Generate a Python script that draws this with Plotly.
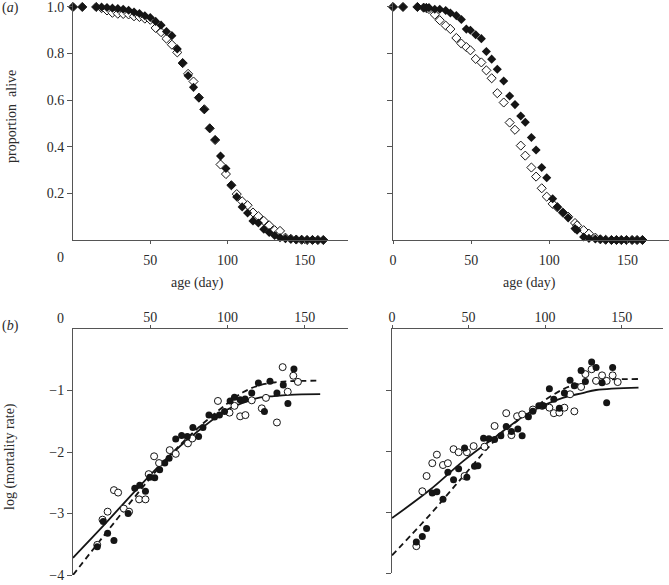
import plotly.graph_objects as go

# ---------------- data ----------------
# (a) survival, left panel
TL_days = [0, 6, 15, 18.5, 22, 25.5, 29, 32.5, 36, 39.5, 43, 46.5, 50, 53.5, 57, 60.5, 64, 67.5,
           71, 74.5, 78, 81.5, 85, 88.5, 92, 95.5, 99, 102.5, 106, 109.5, 113, 116.5, 120, 123.5,
           127, 130.5, 134, 137.5, 141, 144.5, 148, 151.5, 155, 158.5, 162]
TL_filled = [1.0, 1.0, 1.0, 1.0, 0.998, 0.995, 0.993, 0.99, 0.986, 0.978, 0.972, 0.962, 0.955, 0.938,
             0.922, 0.895, 0.877, 0.82, 0.76, 0.705, 0.655, 0.61, 0.56, 0.48, 0.43, 0.36, 0.307, 0.235,
             0.185, 0.142, 0.116, 0.082, 0.073, 0.046, 0.032, 0.019, 0.01, 0.006, 0.004, 0.002, 0.002,
             0.001, 0.001, 0.0, 0.0]
TL_open = [1.0, 1.0, 1.0, 0.995, 0.985, 0.975, 0.971, 0.97, 0.968, 0.96, 0.957, 0.95, 0.945, 0.91,
           0.892, 0.864, 0.838, 0.805, 0.759, 0.713, 0.68, 0.611, 0.561, 0.479, 0.429, 0.324, 0.283,
           0.235, 0.197, 0.166, 0.149, 0.118, 0.102, 0.082, 0.063, 0.042, 0.039, 0.01, 0.005, 0.002,
           0.001, 0.0, 0.0, 0.0, 0.0]

# (a) survival, right panel
TR_days = [0, 6.4, 15.6, 19.6, 21.3, 23, 26.7, 29.9, 33.7, 36.7, 40.5, 43.7, 46.9, 49.5, 52.9, 56.5,
           59.7, 63.1, 66.7, 70.8, 74.6, 78, 81.7, 84.6, 88.5, 91.5, 95.1, 98.3, 102.1, 105.1, 108.7,
           112, 116.4, 117.7, 121.9, 125.3, 129.4, 132.6, 136, 139.7, 142.9, 146, 149.3, 152.9, 156.1,
           159.5]
TR_filled = [1.0, 1.0, 1.0, 0.997, 0.997, 0.997, 0.99, 0.99, 0.985, 0.974, 0.963, 0.946, 0.905, 0.9,
             0.881, 0.864, 0.809, 0.776, 0.733, 0.682, 0.618, 0.581, 0.532, 0.505, 0.44, 0.386, 0.311,
             0.267, 0.177, 0.142, 0.118, 0.095, 0.049, 0.042, 0.013, 0.007, 0.004, 0.003, 0.001, 0, 0,
             0, 0, 0, 0, 0]
TR_open = [1.0, 1.0, 1.0, 0.997, 0.995, 0.991, 0.967, 0.943, 0.92, 0.905, 0.867, 0.843, 0.828, 0.814,
           0.777, 0.762, 0.728, 0.694, 0.63, 0.59, 0.504, 0.473, 0.405, 0.362, 0.311, 0.272, 0.222,
           0.186, 0.155, 0.14, 0.117, 0.1, 0.073, 0.063, 0.042, 0.027, 0.01, 0.003, 0.001, 0, 0, 0, 0,
           0, 0, 0]

# (b) log mortality, left panel
BL_f_days = [15.7, 19.6, 22.4, 26.5, 35.7, 40, 43.2, 46.9, 49.7, 52.9, 56.1, 59.4, 62.2, 66.5, 70.3,
             74, 77.6, 81.3, 84.1, 88, 91.6, 94.8, 98.1, 101.7, 104.5, 108.2, 111.4, 115.7, 120, 123.9,
             127.5, 132, 136.1, 139.1, 143]
BL_f_vals = [-3.54, -3.13, -3.32, -3.44, -3.0, -2.59, -2.54, -2.64, -2.41, -2.42, -2.29, -2.18, -2.10,
             -1.79, -1.73, -1.75, -1.60, -1.75, -1.60, -1.40, -1.43, -1.40, -1.34, -1.17, -1.11, -1.15,
             -1.14, -1.04, -0.88, -1.34, -0.85, -1.04, -0.91, -1.21, -0.65]
BL_o_days = [15.7, 19.1, 22.4, 26.5, 29.2, 32.9, 36.3, 42.8, 46.9, 49, 52.5, 55.7, 62.6, 66.5, 74.4,
             77.2, 93.8, 101.3, 104.5, 108.2, 111.6, 115.7, 122.2, 124.9, 132, 135.7, 139, 142.6, 145.6]
BL_o_vals = [-3.51, -3.10, -2.97, -2.62, -2.66, -2.92, -2.97, -2.77, -2.77, -2.36, -2.07, -2.18, -1.97,
             -2.03, -1.86, -1.78, -1.17, -1.36, -1.25, -1.42, -1.40, -1.16, -1.29, -1.12, -1.52, -0.62,
             -1.02, -0.76, -0.86]
BL_curve_days = [0, 20, 40, 60, 80, 100, 110, 120, 130, 140, 160]
BL_solid = [-3.72, -3.19, -2.64, -2.12, -1.68, -1.31, -1.20, -1.12, -1.09, -1.07, -1.06]
BL_dashed = [-4.0, -3.36, -2.73, -2.13, -1.63, -1.21, -1.03, -0.92, -0.87, -0.85, -0.84]

# (b) log mortality, right panel
BR_f_days = [15.9, 19.8, 22.6, 26.3, 29.3, 33.3, 36.5, 40.2, 43.5, 47.4, 48.9, 53.9, 56.1, 59.8, 63.3,
             67, 71.1, 74.6, 78, 82.2, 85, 89.1, 92, 95.9, 98.9, 102.8, 105.7, 109.3, 112.6, 116.3,
             119.1, 123.5, 126.3, 130.4, 133.3, 137.2, 140.2, 144.1]
BR_f_vals = [-3.49, -3.40, -3.27, -2.69, -2.67, -2.79, -2.35, -2.47, -2.29, -1.95, -2.43, -2.25, -2.24,
             -1.79, -1.80, -1.81, -1.75, -1.60, -1.68, -1.64, -1.75, -1.44, -1.35, -1.26, -1.26, -0.98,
             -1.15, -1.30, -1.05, -0.84, -0.93, -0.68, -0.86, -0.54, -0.63, -0.88, -1.21, -0.63]
BR_o_days = [15.9, 19.8, 22.6, 26.3, 29.3, 33.3, 36.5, 40.2, 43.5, 47.4, 48.9, 53.3, 60.4, 67, 74.6,
             78, 81.7, 85, 92, 98, 102.8, 105.7, 109.3, 112.6, 116.3, 119.1, 123.5, 126.3, 130.4,
             133.3, 137.2, 140.2, 144.1, 147.4]
BR_o_vals = [-3.56, -2.66, -2.41, -2.20, -2.06, -2.23, -2.20, -1.97, -2.02, -2.41, -2.02, -1.92, -1.93,
             -1.59, -1.38, -1.74, -1.43, -1.40, -1.32, -1.26, -1.29, -1.38, -1.37, -1.29, -1.07, -1.35,
             -0.95, -0.74, -0.66, -0.85, -0.76, -0.85, -0.76, -0.87]
BR_curve_days = [0, 24.6, 46.3, 68, 89.8, 111.5, 124.6, 133.3, 161]
BR_solid = [-3.10, -2.64, -2.17, -1.76, -1.37, -1.13, -1.05, -1.0, -0.96]
BR_dashed = [-3.71, -3.05, -2.42, -1.81, -1.35, -0.99, -0.88, -0.84, -0.82]

x_ticks = [50, 100, 150]
x_ticks_right = [0, 50, 100, 150]
surv_ticks = [0.2, 0.4, 0.6, 0.8, 1.0]
surv_ticktext = ["0.2", "0.4", "0.6", "0.8", "1.0"]
mort_ticks = [-1, -2, -3, -4]

# ---------------- figure ----------------
W, H = 669, 585
FONT = "Liberation Serif, Times New Roman, serif"
TXT = "#2b2b2b"
AX = "#555555"
INK = "#151515"


def fx(p):
    return p / W


def fy(p):
    return 1 - p / H


fig = go.Figure()


def diamonds(x, y, xa, ya, filled):
    fig.add_trace(go.Scatter(
        x=x, y=y, xaxis=xa, yaxis=ya, mode="markers", cliponaxis=False, showlegend=False,
        marker=dict(symbol="diamond", size=7,
                    color=INK if filled else "white",
                    line=dict(color=INK, width=1 if not filled else 0))))


def circles(x, y, xa, ya, filled):
    fig.add_trace(go.Scatter(
        x=x, y=y, xaxis=xa, yaxis=ya, mode="markers", cliponaxis=False, showlegend=False,
        marker=dict(symbol="circle", size=7,
                    color=INK if filled else "white",
                    line=dict(color=INK, width=1 if not filled else 0))))


def curve(x, y, xa, ya, dash):
    fig.add_trace(go.Scatter(
        x=x, y=y, xaxis=xa, yaxis=ya, mode="lines", cliponaxis=False, showlegend=False,
        line=dict(color=INK, width=1.8, dash=dash, shape="spline", smoothing=1.0)))


diamonds(TL_days, TL_open, "x", "y", False)
diamonds(TL_days, TL_filled, "x", "y", True)
diamonds(TR_days, TR_open, "x2", "y2", False)
diamonds(TR_days, TR_filled, "x2", "y2", True)

curve(BL_curve_days, BL_solid, "x3", "y3", "solid")
curve(BL_curve_days, BL_dashed, "x3", "y3", "6px,4px")
circles(BL_o_days, BL_o_vals, "x3", "y3", False)
circles(BL_f_days, BL_f_vals, "x3", "y3", True)

curve(BR_curve_days, BR_solid, "x4", "y4", "solid")
curve(BR_curve_days, BR_dashed, "x4", "y4", "6px,4px")
circles(BR_o_days, BR_o_vals, "x4", "y4", False)
circles(BR_f_days, BR_f_vals, "x4", "y4", True)

tickfont = dict(family=FONT, size=14, color=TXT)
common_x = dict(showline=True, linecolor=AX, linewidth=1, showgrid=False, zeroline=False,
                ticks="outside", ticklen=3, tickcolor=AX, tickfont=tickfont, fixedrange=True,
                automargin=False, ticklabeloverflow="allow")
common_y = dict(showline=True, linecolor=AX, linewidth=1, showgrid=False, zeroline=False,
                ticks="outside", ticklen=5, tickcolor=AX, tickfont=tickfont, fixedrange=True,
                automargin=False, ticklabeloverflow="allow")

top_dom = [fy(240), fy(3)]
bot_dom = [fy(575), fy(329)]

fig.update_layout(
    template="none",
    width=W, height=H, margin=dict(l=0, r=0, t=0, b=0, pad=0, autoexpand=False),
    paper_bgcolor="white", plot_bgcolor="white",
    font=dict(family=FONT, size=14, color=TXT),
    xaxis=dict(common_x, domain=[fx(73), fx(348)], range=[0, 178], anchor="y",
               tickvals=x_ticks, ticklabelstandoff=4),
    yaxis=dict(common_y, domain=top_dom, range=[0, 1.017], anchor="x",
               tickvals=surv_ticks, ticktext=surv_ticktext),
    xaxis2=dict(common_x, domain=[fx(393), 1.0], range=[0, 176.5], anchor="y2",
                tickvals=x_ticks_right, ticklabelstandoff=4),
    yaxis2=dict(common_y, domain=top_dom, range=[0, 1.017], anchor="x2",
                tickvals=surv_ticks, showticklabels=False),
    xaxis3=dict(common_x, domain=[fx(73), fx(348)], range=[0, 178], anchor="y3", side="top",
                tickvals=x_ticks, ticklabelstandoff=-3),
    yaxis3=dict(common_y, domain=bot_dom, range=[-4, 0], anchor="x3",
                tickvals=mort_ticks),
    xaxis4=dict(common_x, domain=[fx(392), fx(663)], range=[0, 177], anchor="y4", side="top",
                tickvals=x_ticks_right, ticklabelstandoff=-3),
    yaxis4=dict(common_y, domain=[fy(573), fy(329)], range=[-4, 0], anchor="x4",
                tickvals=mort_ticks, showticklabels=False),
)

ann_font = dict(family=FONT, size=14, color=TXT)


def ann(text, x, y, angle=0, xanchor="center"):
    fig.add_annotation(text=text, x=fx(x), y=fy(y), xref="paper", yref="paper",
                       showarrow=False, textangle=angle, font=ann_font,
                       xanchor=xanchor, yanchor="middle")


ann("0", 60, 257)
ann("0", 60, 318)
ann("age (day)", 197, 283)
ann("age (day)", 529, 283)
ann("proportion  alive", 12, 117, angle=-90)
ann("log (mortality rate)", 10, 457, angle=-90)
ann("(<i>a</i>)", 0, 8, xanchor="left")
ann("(<i>b</i>)", 0, 326, xanchor="left")

fig.write_html("out.html",
               config={"displayModeBar": False, "staticPlot": True},
               post_script="document.body.style.margin='0';document.body.style.padding='0';"
                           "document.body.style.overflow='hidden';")
